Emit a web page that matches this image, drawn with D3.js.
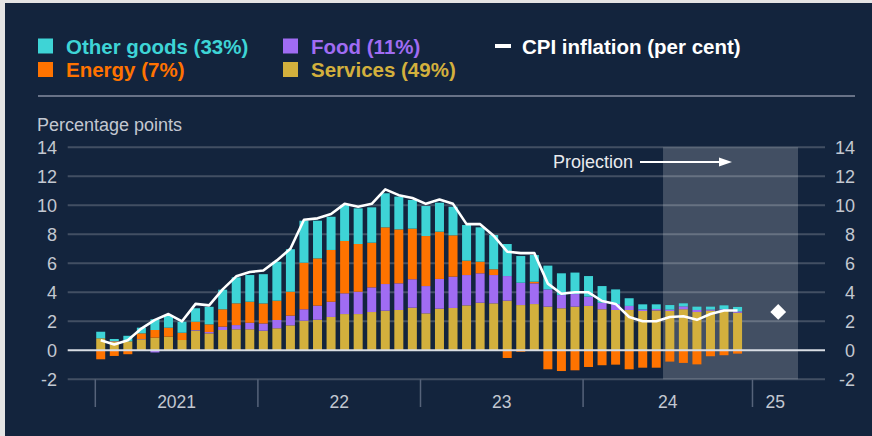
<!DOCTYPE html>
<html>
<head>
<meta charset="utf-8">
<script src="https://cdn.jsdelivr.net/npm/d3@7"></script>
<style>
html,body{margin:0;padding:0;background:#e4e4e4;}
svg{display:block;}
text{font-family:"Liberation Sans",Arial,Helvetica,sans-serif;}
</style>
</head>
<body>
<svg id="chart" width="872" height="436"></svg>
<script>
// ---- data (percentage point contributions, Jan 2021 - Dec 2024) ----
const months = d3.timeMonth.range(new Date(2021,0,1), new Date(2025,0,1)).map(d3.timeFormat("%b %Y"));
const services   = [0.83,0.62,0.62,0.76,0.87,0.94,0.71,1.36,1.17,1.40,1.45,1.45,
                    1.35,1.52,1.72,2.04,2.11,2.30,2.50,2.50,2.64,2.73,2.78,2.94,
                    2.55,2.87,2.92,3.10,3.28,3.24,3.42,3.12,3.19,3.01,2.90,3.01,
                    3.06,2.83,2.78,2.78,2.71,2.75,2.71,2.83,2.64,2.73,2.73,2.59];
const food       = [0.00,0.02,-0.05,0.02,-0.15,0.00,0.00,0.04,0.09,0.23,0.29,0.45,
                    0.50,0.57,0.67,0.79,0.97,1.05,1.43,1.54,1.70,1.84,1.84,1.96,
                    1.88,2.05,2.16,2.09,2.03,1.95,1.70,1.54,1.43,1.19,0.91,0.87,
                    0.64,0.45,0.41,0.28,0.11,0.10,0.10,0.20,0.14,0.08,0.10,0.10];
const energy     = [-0.62,-0.39,-0.22,0.39,0.53,0.62,0.50,0.57,0.53,1.20,1.50,1.45,
                    1.38,1.33,1.65,3.21,3.26,3.57,3.61,3.29,3.08,3.91,3.72,3.49,
                    3.45,3.26,2.85,0.99,0.80,0.40,-0.53,-0.10,0.11,-1.31,-1.43,-1.38,
                    -1.15,-1.03,-0.99,-1.31,-1.20,-1.20,-0.78,-0.87,-0.97,-0.41,-0.34,-0.23];
const otherGoods = [0.45,0.14,0.38,0.39,0.74,0.84,0.76,0.93,1.21,1.35,1.79,1.84,
                    2.02,2.69,2.93,2.90,2.60,2.29,2.48,2.46,2.44,2.35,2.26,1.98,
                    2.07,2.00,1.97,2.46,2.37,2.36,2.21,1.84,1.84,1.64,1.50,1.48,
                    1.42,1.15,1.01,0.53,0.35,0.32,0.31,0.21,0.23,0.20,0.27,0.30];
const cpi        = [0.7,0.4,0.7,1.5,2.1,2.5,2.0,3.2,3.1,4.2,5.1,5.4,
                    5.5,6.2,7.0,9.0,9.1,9.4,10.1,9.9,10.1,11.1,10.7,10.5,
                    10.1,10.4,10.1,8.7,8.7,7.9,6.8,6.7,6.7,4.6,3.9,4.0,
                    4.0,3.4,3.2,2.3,2.0,2.0,2.3,2.35,2.1,2.5,2.75,2.75];
const projectionPoint = {label:"2025 Q1", month:50.4, value:2.65};
const projectionStartMonth = 41.9;
const axisEndMonth = 51.86;
const yTicks = [-2,0,2,4,6,8,10,12,14];
const yearLabels = ["2021","22","23","24","25"];
const yearStartMonths = [0,12,24,36,48.5];

const seriesKeys  = ["services","food","energy","otherGoods"];
const seriesNames = {otherGoods:"Other goods (33%)", food:"Food (11%)", energy:"Energy (7%)", services:"Services (49%)"};
const colors = {otherGoods:"#3ed4d6", food:"#a06cf3", energy:"#ff7300", services:"#d3b03d"};

const rows = months.map((m,i)=>({month:i, label:m, services:services[i], food:food[i], energy:energy[i], otherGoods:otherGoods[i]}));

// ---- layout ----
const svg = d3.select("#chart");
svg.append("rect").attr("x",5).attr("y",3).attr("width",867).attr("height",433).attr("fill","#13243d");

const x = d3.scaleLinear().domain([0, axisEndMonth]).range([95.3, 798]);
const y = d3.scaleLinear().domain([-2, 14]).range([379.3, 147.3]);
const gridX0 = 67.7, gridX1 = 825;
const barW = 9;
const tickColor = "#c3c8d1";

// legend
const legendItems = [
  {key:"otherGoods", col:0, row:0},
  {key:"food", col:1, row:0},
  {key:"energy", col:0, row:1},
  {key:"services", col:1, row:1}
];
const colX = [38, 283], rowY = [38.5, 62];
const lg = svg.append("g");
legendItems.forEach(it=>{
  lg.append("rect").attr("x",colX[it.col]).attr("y",rowY[it.row]).attr("width",15).attr("height",15).attr("fill",colors[it.key]);
  lg.append("text").attr("x",colX[it.col]+28).attr("y",rowY[it.row]+15)
    .attr("font-size",20.5).attr("font-weight","bold").attr("fill",colors[it.key]).text(seriesNames[it.key]);
});
lg.append("line").attr("x1",495).attr("x2",511).attr("y1",46).attr("y2",46).attr("stroke","#fff").attr("stroke-width",4);
lg.append("text").attr("x",522).attr("y",53.5).attr("font-size",20.5).attr("font-weight","bold").attr("fill","#ffffff").text("CPI inflation (per cent)");

svg.append("line").attr("x1",38).attr("x2",855).attr("y1",96).attr("y2",96).attr("stroke","#687287").attr("stroke-width",2);

svg.append("text").attr("x",37).attr("y",131).attr("font-size",18).attr("fill",tickColor).text("Percentage points");

// projection shading
svg.append("rect").attr("x",x(projectionStartMonth)).attr("y",y(14))
  .attr("width",x(axisEndMonth)-x(projectionStartMonth)).attr("height",y(-2)-y(14))
  .attr("fill","rgba(255,255,255,0.2)");

// gridlines
svg.append("g").selectAll("line").data(yTicks.filter(t=>t!==0)).join("line")
  .attr("x1",gridX0).attr("x2",gridX1).attr("y1",d=>y(d)).attr("y2",d=>y(d))
  .attr("stroke","rgba(255,255,255,0.2)").attr("stroke-width",2);

// y tick labels (left and right)
svg.append("g").selectAll("text").data(yTicks).join("text")
  .attr("x",57).attr("y",d=>y(d)).attr("dy","0.36em").attr("text-anchor","end")
  .attr("font-size",18).attr("fill",tickColor).text(d=>d);
svg.append("g").selectAll("text").data(yTicks).join("text")
  .attr("x",855).attr("y",d=>y(d)).attr("dy","0.36em").attr("text-anchor","end")
  .attr("font-size",18).attr("fill",tickColor).text(d=>d);

// x axis year ticks and labels
svg.append("g").selectAll("line").data(yearStartMonths).join("line")
  .attr("x1",d=>x(d)).attr("x2",d=>x(d)).attr("y1",y(-2)).attr("y2",407)
  .attr("stroke","#56637a").attr("stroke-width",1.5);
const labelPos = yearStartMonths.map((m,i)=> (m + (i<yearStartMonths.length-1 ? yearStartMonths[i+1] : axisEndMonth))/2);
svg.append("g").selectAll("text").data(yearLabels).join("text")
  .attr("x",(d,i)=>x(labelPos[i])).attr("y",408).attr("text-anchor","middle")
  .attr("font-size",17.5).attr("fill",tickColor).text(d=>d);

// stacked bars
const stack = d3.stack().keys(seriesKeys).offset(d3.stackOffsetDiverging);
const stacked = stack(rows);
svg.append("g").selectAll("g").data(stacked).join("g")
  .attr("fill",d=>colors[d.key])
  .selectAll("rect").data(d=>d).join("rect")
  .attr("x",d=>x(d.data.month+0.4)-barW/2)
  .attr("width",barW)
  .attr("y",d=>y(Math.max(d[0],d[1])))
  .attr("height",d=>Math.abs(y(d[0])-y(d[1])));

// zero line
svg.append("line").attr("x1",gridX0).attr("x2",gridX1).attr("y1",y(0)).attr("y2",y(0))
  .attr("stroke","#d9dde4").attr("stroke-width",2);

// CPI line
svg.append("path").datum(cpi)
  .attr("d",d3.line().x((d,i)=>x(i+0.4)).y(d=>y(d)))
  .attr("fill","none").attr("stroke","#ffffff").attr("stroke-width",2.6).attr("stroke-linejoin","round");

// projection point (diamond)
svg.append("path")
  .attr("d",d3.symbol().type(d3.symbolSquare).size(125)())
  .attr("transform",`translate(${x(projectionPoint.month)},${y(projectionPoint.value)}) rotate(45)`)
  .attr("fill","#ffffff");

// projection annotation
svg.append("text").attr("x",553).attr("y",168).attr("font-size",18).attr("fill","#e8eaee").text("Projection");
svg.append("line").attr("x1",640).attr("x2",721).attr("y1",162).attr("y2",162).attr("stroke","#fff").attr("stroke-width",2);
svg.append("path").attr("d","M719,157.5 L732,162 L719,166.5 Z").attr("fill","#fff");
</script>
</body>
</html>
